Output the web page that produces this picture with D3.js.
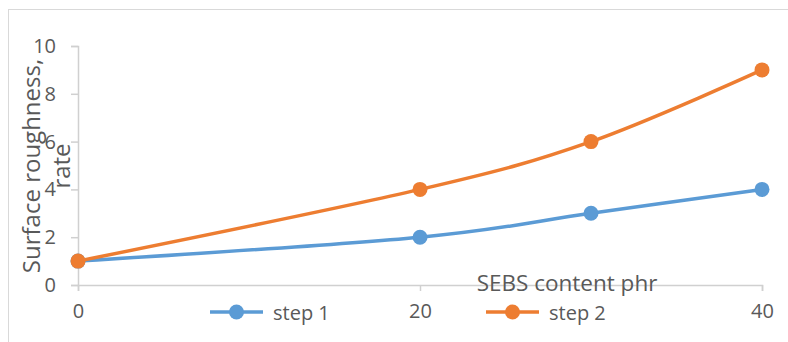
<!DOCTYPE html>
<html>
<head>
<meta charset="utf-8">
<script src="https://cdn.jsdelivr.net/npm/d3@7"></script>
<style>
  html, body { margin: 0; padding: 0; background: #fff; }
  svg { display: block; font-family: "Open Sans", Lato, sans-serif; }
</style>
</head>
<body>
<svg id="chart" width="788" height="342"></svg>
<script>
// SEBS content (phr) on the x axis
const sebsContent = [0, 20, 30, 40];
// Surface roughness rate for each processing step
const step1 = [1, 2, 3, 4];
const step2 = [1, 4, 6, 9];
const seriesNames = ["step 1", "step 2"];
const seriesColors = ["#5B9BD5", "#ED7D31"];
const xTicks = [0, 20, 40];
const yTicks = [0, 2, 4, 6, 8, 10];
const xTitle = "SEBS content phr";
const yTitleLines = ["Surface roughness,", "rate"];

const svg = d3.select("#chart");
const textColor = "#595959";
const axisColor = "#d0d0d0";
const fontFamily = "'Open Sans', Lato, sans-serif";

// chart frame
svg.append("rect")
  .attr("x", 8.5).attr("y", 9.5)
  .attr("width", 900).attr("height", 500)
  .attr("fill", "none").attr("stroke", "#d9d9d9").attr("stroke-width", 1);

const x = d3.scaleLinear().domain([0, 40]).range([78, 762]);
const y = d3.scaleLinear().domain([0, 10]).range([285, 46]);

// y axis
const yAxis = svg.append("g")
  .attr("transform", `translate(${x(0)},0)`)
  .call(d3.axisLeft(y).tickValues(yTicks).tickSize(7).tickPadding(15));
// x axis
const xAxis = svg.append("g")
  .attr("transform", `translate(0,${y(0)})`)
  .call(d3.axisBottom(x).tickValues(xTicks).tickSize(6).tickPadding(13));

[yAxis, xAxis].forEach(g => {
  g.select(".domain").attr("stroke", axisColor).attr("stroke-width", 1.5);
  g.selectAll(".tick line").attr("stroke", axisColor).attr("stroke-width", 1.5);
  g.selectAll(".tick text")
    .attr("fill", textColor)
    .style("font-size", "20px")
    .style("font-family", fontFamily);
});

// y axis title, two rotated lines
const yTitle = svg.append("text")
  .attr("transform", "translate(0,166) rotate(-90)")
  .attr("text-anchor", "middle")
  .attr("fill", textColor)
  .style("font-size", "24px");
yTitleLines.forEach((line, i) => {
  yTitle.append("tspan").attr("x", 0).attr("y", 40 + i * 30).text(line);
});

// series
const series = [step1, step2];
const line = d3.line()
  .x((d, i) => x(sebsContent[i]))
  .y(d => y(d))
  .curve(d3.curveCardinal.tension(0));

series.forEach((vals, s) => {
  svg.append("path")
    .datum(vals)
    .attr("d", line)
    .attr("fill", "none")
    .attr("stroke", seriesColors[s])
    .attr("stroke-width", 3.5)
    .attr("stroke-linecap", "round");
  svg.append("g").selectAll("circle")
    .data(vals)
    .join("circle")
    .attr("cx", (d, i) => x(sebsContent[i]))
    .attr("cy", d => y(d))
    .attr("r", 7.5)
    .attr("fill", seriesColors[s]);
});

// x axis title, drawn over the axis line
svg.append("text")
  .attr("x", 567).attr("y", 291)
  .attr("text-anchor", "middle")
  .attr("fill", textColor)
  .style("font-size", "22.5px")
  .text(xTitle);

// legend
const legendX = [210, 486];
const legend = svg.append("g");
seriesNames.forEach((name, s) => {
  const g = legend.append("g").attr("transform", `translate(${legendX[s]},312)`);
  g.append("line").attr("x1", 0).attr("x2", 53).attr("y1", 0).attr("y2", 0)
    .attr("stroke", seriesColors[s]).attr("stroke-width", 3.5);
  g.append("circle").attr("cx", 26.5).attr("cy", 0).attr("r", 7.5)
    .attr("fill", seriesColors[s]);
  g.append("text").attr("x", 63).attr("y", 8)
    .attr("fill", textColor)
    .style("font-size", "20px")
    .text(name);
});
</script>
</body>
</html>
